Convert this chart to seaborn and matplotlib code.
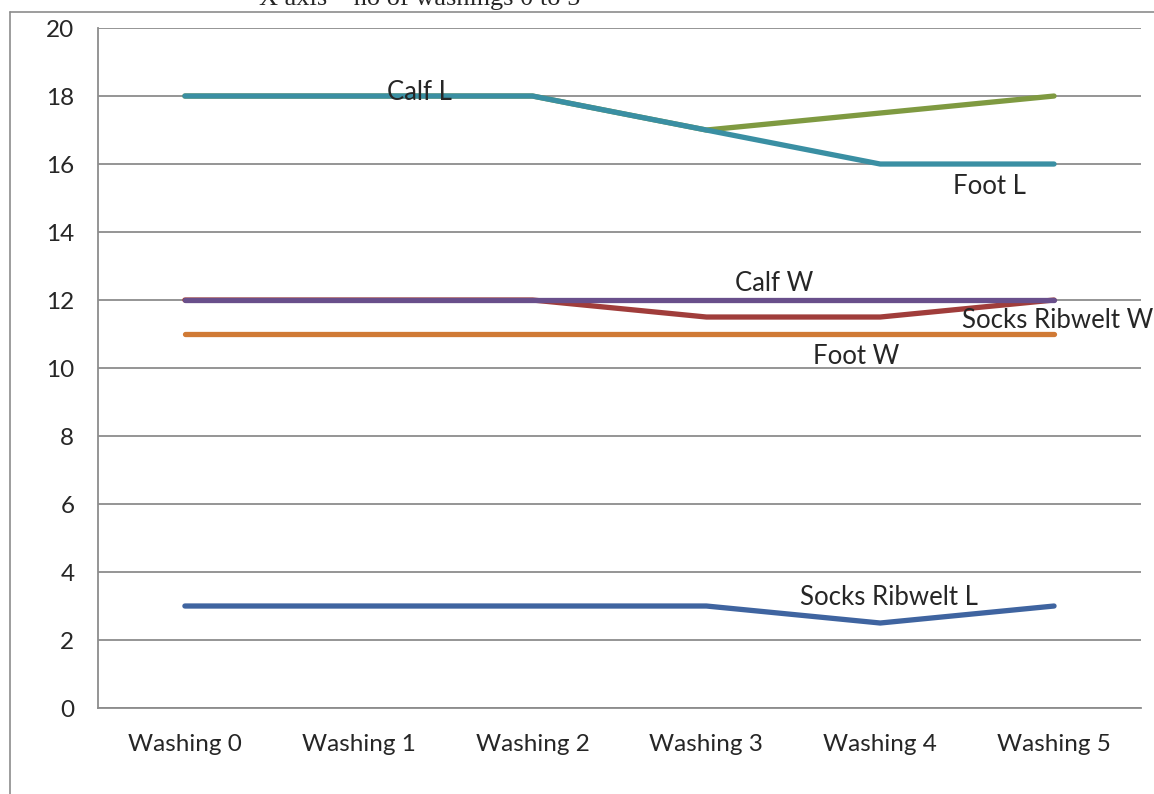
import pandas as pd
import seaborn as sns
from matplotlib import pyplot as plt
from matplotlib.lines import Line2D

# data
washings = ["Washing 0", "Washing 1", "Washing 2", "Washing 3", "Washing 4", "Washing 5"]
socks_ribwelt_l = [3, 3, 3, 3, 2.5, 3]
socks_ribwelt_w = [12, 12, 12, 11.5, 11.5, 12]
foot_l = [18, 18, 18, 17, 17.5, 18]
calf_w = [12, 12, 12, 12, 12, 12]
calf_l = [18, 18, 18, 17, 16, 16]
foot_w = [11, 11, 11, 11, 11, 11]

series = [
    ("Socks Ribwelt L", socks_ribwelt_l, "#3F64A0"),
    ("Socks Ribwelt W", socks_ribwelt_w, "#A03D3B"),
    ("Foot L", foot_l, "#7F9A41"),
    ("Calf W", calf_w, "#694F8B"),
    ("Calf L", calf_l, "#3A8FA3"),
    ("Foot W", foot_w, "#D07A35"),
]

sns.set_style("white")
plt.rcParams["font.family"] = ["Lato", "DejaVu Sans"]

fig = plt.figure(figsize=(11.54, 7.94), dpi=100)
ax = fig.add_axes([0.0849, 0.1083, 0.9038, 0.8564])

for name, vals, col in series:
    df = pd.DataFrame({"x": range(len(washings)), "y": vals})
    sns.lineplot(data=df, x="x", y="y", ax=ax, color=col, linewidth=3.8,
                 solid_capstyle="round", solid_joinstyle="round", sort=False)

ax.set_xlim(-0.5, 5.5)
ax.set_ylim(0, 20)
ax.set_yticks(range(0, 21, 2))
ax.set_xticks(range(len(washings)))
ax.set_xticklabels(washings)
ax.set_xticks([i - 0.5 for i in range(len(washings) + 1)], minor=True)
ax.tick_params(axis="x", which="major", length=0, pad=18.5, labelsize=17.5)
ax.tick_params(axis="x", which="minor", length=7, width=1.3, color="#8c8c8c", direction="out")
ax.tick_params(axis="y", length=7, width=1.3, color="#8c8c8c", direction="out", labelsize=17.5, pad=10)
ax.set_xlabel("")
ax.set_ylabel("")
ax.grid(axis="y", color="#8c8c8c", linewidth=1.3)
ax.set_axisbelow(True)
for s in ["top", "right"]:
    ax.spines[s].set_visible(False)
for s in ["left", "bottom"]:
    ax.spines[s].set_color("#8c8c8c")
    ax.spines[s].set_linewidth(1.3)

# in-chart labels
ax.text(1.35, 18.1, "Calf L", ha="center", va="center", fontsize=18.5)
ax.text(4.63, 15.35, "Foot L", ha="center", va="center", fontsize=18.5)
ax.text(3.39, 12.5, "Calf W", ha="center", va="center", fontsize=18.5)
ax.text(4.47, 11.4, "Socks Ribwelt W", ha="left", va="center", fontsize=18.5, clip_on=False)
ax.text(3.86, 10.35, "Foot W", ha="center", va="center", fontsize=18.5)
ax.text(4.05, 3.24, "Socks Ribwelt L", ha="center", va="center", fontsize=18.5)

# cropped caption and outer frame
fig.text(0.364, 0.9937, "X axis \u2013 no of washings 0 to 5", ha="center", va="baseline",
         fontsize=19, family="Liberation Serif")
fig.add_artist(Line2D([0.0087, 1.0], [0.985, 0.985], color="#8c8c8c", linewidth=1.2))
fig.add_artist(Line2D([0.0087, 0.0087], [0.0, 0.985], color="#8c8c8c", linewidth=1.2))

fig.savefig("out.png", dpi=100)
